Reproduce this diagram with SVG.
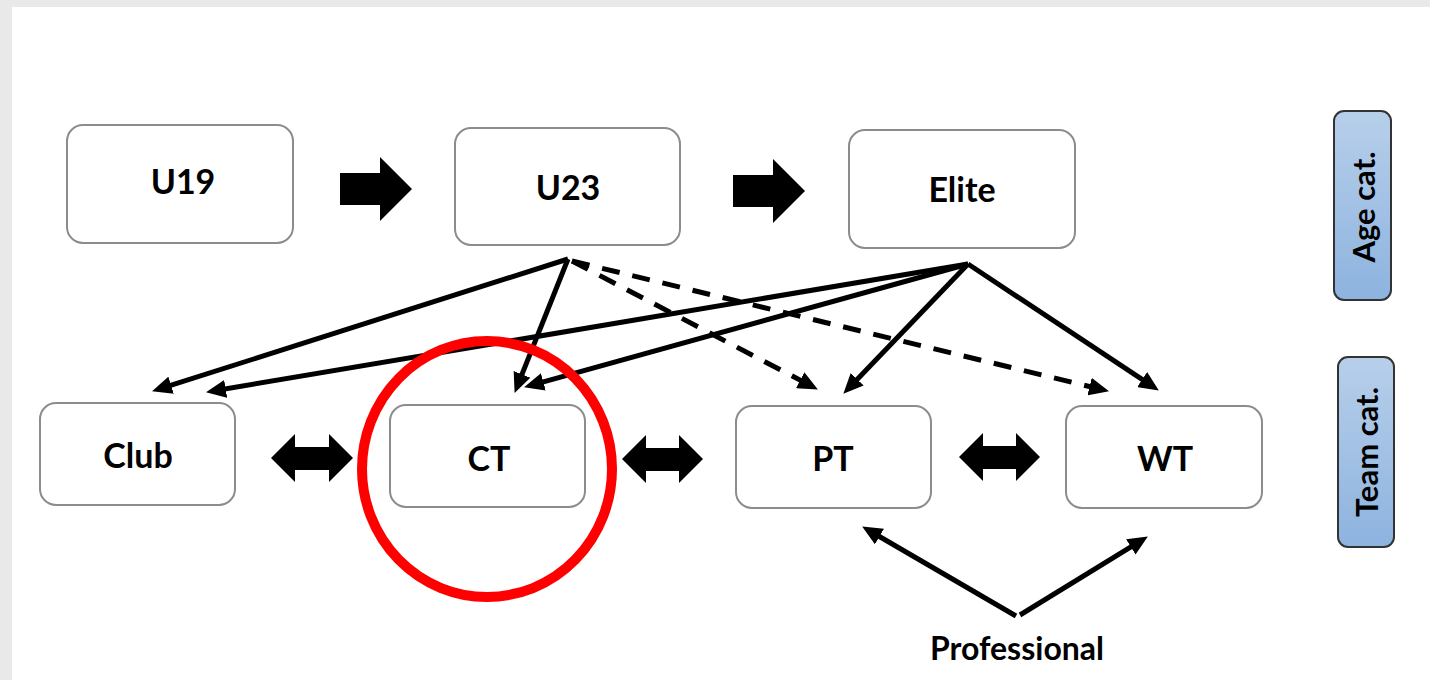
<svg xmlns="http://www.w3.org/2000/svg" width="1430" height="680" viewBox="0 0 1430 680">
<style>
.node{fill:#fff;stroke:#8c8c8c;stroke-width:2}
.lbl{font-family:Lato,"Liberation Sans",sans-serif;font-weight:bold;font-size:34px;fill:#000;text-anchor:middle;dominant-baseline:central}
.cat{fill:url(#blue);stroke:#333;stroke-width:2}
.cattxt{font-family:Lato,"Liberation Sans",sans-serif;font-weight:bold;font-size:31px;fill:#000;text-anchor:middle;dominant-baseline:central}
.ln{stroke:#000;stroke-width:5;fill:none;marker-end:url(#ah)}
.dash{stroke-dasharray:18 13}
.blk{fill:#000}
</style>
<defs>
<linearGradient id="blue" x1="0" y1="0" x2="0" y2="1">
<stop offset="0" stop-color="#b7cfea"/>
<stop offset="1" stop-color="#8db3df"/>
</linearGradient>
<marker id="ah" markerUnits="userSpaceOnUse" markerWidth="20" markerHeight="18" refX="13" refY="9" orient="auto" viewBox="0 0 20 18">
<path d="M0,0 L20,9 L0,18 Z" fill="#000"/>
</marker>
</defs>
<rect x="0" y="0" width="1430" height="680" fill="#e9e9e9"/>
<rect x="12" y="7" width="1418" height="673" fill="#fff"/>

<g id="connectors">
<line class="ln" x1="568" y1="259" x2="158.7" y2="389.2"/>
<line class="ln" x1="568" y1="259" x2="517.2" y2="386.4"/>
<line class="ln dash" x1="572" y1="261" x2="811.7" y2="386.2"/>
<line class="ln dash" x1="572" y1="261" x2="1102.2" y2="389.6"/>
<line class="ln" x1="968" y1="264" x2="212.9" y2="391"/>
<line class="ln" x1="968" y1="264" x2="530.8" y2="385.4"/>
<line class="ln" x1="968" y1="264" x2="848.2" y2="388.7"/>
<line class="ln" x1="968" y1="264" x2="1153" y2="386.7"/>
<line class="ln" x1="1016" y1="616" x2="868.2" y2="530"/>
<line class="ln" x1="1020" y1="615" x2="1141.9" y2="540.1"/>
<polygon class="blk" points="340,173 380,173 380,157 412,189 380,221 380,205 340,205"/>
<polygon class="blk" points="733,175 773,175 773,159 805,191 773,223 773,207 733,207"/>
<polygon class="blk" points="271,458 295,434 295,447 329,447 329,434 353,458 329,482 329,470 295,470 295,482"/>
<polygon class="blk" points="622,459 646,435 646,448 679,448 679,435 703,459 679,483 679,471 646,471 646,483"/>
<polygon class="blk" points="959,457 983,433 983,446 1016,446 1016,433 1040,457 1016,481 1016,469 983,469 983,481"/>
</g>

<g id="u19"><rect class="node" x="67" y="125" width="226" height="118" rx="16"/><text class="lbl" x="183" y="180">U19</text></g>
<g id="u23"><rect class="node" x="455" y="128" width="225" height="117" rx="16"/><text class="lbl" x="568" y="186">U23</text></g>
<g id="elite"><rect class="node" x="849" y="130" width="226" height="118" rx="16"/><text class="lbl" x="962" y="188">Elite</text></g>
<g id="club"><rect class="node" x="40" y="403" width="195" height="102" rx="16"/><text class="lbl" x="138" y="454">Club</text></g>
<g id="ct"><rect class="node" x="390" y="405" width="195" height="102" rx="16"/><text class="lbl" x="489" y="457">CT</text></g>
<g id="pt"><rect class="node" x="736" y="406" width="195" height="102" rx="16"/><text class="lbl" x="833" y="457">PT</text></g>
<g id="wt"><rect class="node" x="1066" y="406" width="196" height="102" rx="16"/><text class="lbl" x="1165" y="457">WT</text></g>

<g id="age-cat"><rect class="cat" x="1334" y="111" width="57" height="189" rx="10"/><text class="cattxt" transform="translate(1363,207) rotate(-90)">Age cat.</text></g>
<g id="team-cat"><rect class="cat" x="1338" y="357" width="56" height="190" rx="10"/><text class="cattxt" transform="translate(1366,452) rotate(-90)">Team cat.</text></g>

<g id="professional"><text class="lbl" style="font-size:32px" x="1017" y="647">Professional</text></g>

<g id="highlight"><ellipse cx="487" cy="469" rx="125" ry="128" fill="none" stroke="#ff0000" stroke-width="10"/></g>
</svg>
